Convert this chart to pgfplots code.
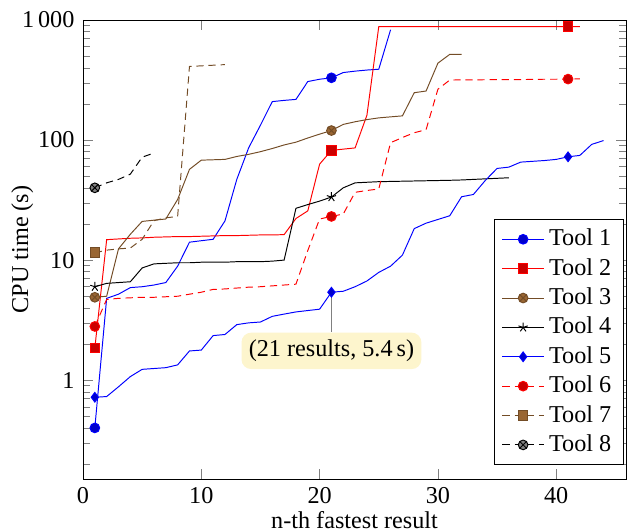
\documentclass[border=0pt]{standalone}
\usepackage{fontspec}
\setmainfont{Liberation Serif}
\usepackage{pgfplots}
\pgfplotsset{compat=1.18}
\definecolor{pinfill}{RGB}{253,245,205}
\begin{document}
\begin{tikzpicture}
\begin{axis}[
  scale only axis,
  width=224.4pt, height=189.7pt,
  ymode=log,
  xmin=0, xmax=45.9,
  ymin=0.15, ymax=1000,
  log ticks with fixed point,
  /pgf/number format/1000 sep={\,},
  /pgf/number format/assume math mode=true,
  xtick={0,10,20,30,40},
  xlabel={n-th fastest result},
  ylabel={CPU time (s)},
  xlabel style={yshift=3.8pt},
  ylabel style={at={(axis description cs:-0.112,0.5)}, anchor=center},
  mark repeat=20,
  legend style={at={(0.996,0.03)}, anchor=south east, row sep=-0.3pt},
  legend cell align=left,
]
\addplot[blue, mark=*, every mark/.append style={fill=blue!80!black}] coordinates {
(1,0.4)(2,4.8)(3,5.2)(4,5.9)(5,6.0)(6,6.2)(7,6.5)(8,8.9)(9,14.1)(10,14.5)
(11,14.9)(12,21.2)(13,47)(14,86)(15,133)(16,209)(17,214)(18,218)(19,307)(20,321)
(21,330)(22,365)(23,375)(24,383)(25,389)(26,830)};
\addlegendentry{Tool 1}
\addplot[red, mark=square*, every mark/.append style={fill=red!80!black}] coordinates {
(1,1.85)(2,14.8)(3,15)(4,15.2)(5,15.3)(6,15.5)(7,15.6)(8,15.7)(9,15.7)(10,15.8)
(11,15.9)(12,16)(13,16)(14,16.1)(15,16.2)(16,16.2)(17,16.3)(18,22.2)(19,25.7)(20,63)
(21,82)(22,84)(23,86)(24,161)(25,880)(26,880)(27,880)(28,880)(29,880)(30,880)
(31,880)(32,880)(33,880)(34,880)(35,880)(36,880)(37,880)(38,880)(39,880)(40,880)
(41,880)(42,880)};
\addlegendentry{Tool 2}
\addplot[brown!60!black, mark=otimes*, every mark/.append style={fill=brown!80!black}] coordinates {
(1,4.9)(2,5.0)(3,12.4)(4,16.4)(5,21)(6,21.5)(7,22)(8,32)(9,57)(10,68)
(11,68.5)(12,69)(13,73)(14,76)(15,80)(16,85)(17,91)(18,96)(19,104)(20,112)
(21,120)(22,135)(23,142)(24,148)(25,153)(26,156)(27,159)(28,248)(29,256)(30,437)
(31,517)(32,517)};
\addlegendentry{Tool 3}
\addplot[black, mark=star] coordinates {
(1,6.0)(2,6.4)(3,6.5)(4,6.6)(5,8.6)(6,9.3)(7,9.4)(8,9.5)(9,9.5)(10,9.6)
(11,9.6)(12,9.6)(13,9.7)(14,9.7)(15,9.7)(16,9.8)(17,10.0)(18,27)(19,29)(20,31)
(21,33.5)(22,40)(23,44)(24,44.5)(25,45)(26,45.2)(27,45.4)(28,45.6)(29,45.8)(30,46)
(31,46.2)(32,46.5)(33,47)(34,47.5)(35,48)(36,48.5)};
\addlegendentry{Tool 4}
\addplot[blue, mark=diamond*, every mark/.append style={fill=blue!80!black}] coordinates {
(1,0.72)(2,0.73)(3,0.88)(4,1.07)(5,1.23)(6,1.25)(7,1.27)(8,1.34)(9,1.75)(10,1.78)
(11,2.35)(12,2.4)(13,2.9)(14,3.0)(15,3.05)(16,3.4)(17,3.55)(18,3.7)(19,3.8)(20,3.9)
(21,5.4)(22,5.5)(23,6.0)(24,6.7)(25,7.9)(26,8.9)(27,11)(28,18.3)(29,20.3)(30,21.8)
(31,23.4)(32,33.7)(33,35.2)(34,46)(35,58)(36,59.5)(37,65.5)(38,66.5)(39,67.5)(40,69)
(41,72.5)(42,74.5)(43,92)(44,99)};
\addlegendentry{Tool 5}
\addplot[red, densely dashed, mark=*, every mark/.append style={solid, fill=red!80!black}] coordinates {
(1,2.8)(2,4.7)(3,4.8)(4,4.85)(5,4.9)(6,4.9)(7,4.95)(8,5.0)(9,5.2)(10,5.4)
(11,5.7)(12,5.75)(13,5.85)(14,5.95)(15,6.0)(16,6.1)(17,6.2)(18,6.3)(19,12)(20,22)
(21,23.1)(22,24.2)(23,36.7)(24,38)(25,39.1)(26,95)(27,105)(28,115)(29,122)(30,265)
(31,316)(32,317)(33,317)(34,318)(35,318)(36,319)(37,319)(38,320)(39,321)(40,321)
(41,322)(42,323)};
\addlegendentry{Tool 6}
\addplot[brown!60!black, densely dashed, mark=square*, every mark/.append style={solid, fill=brown!80!black}] coordinates {
(1,11.5)(2,12.1)(3,12.4)(4,12.6)(5,14.9)(6,21.3)(7,22.5)(8,23.1)(9,410)(10,415)
(11,420)(12,425)};
\addlegendentry{Tool 7}
\addplot[black, densely dashed, mark=otimes*, every mark/.append style={solid, fill=gray}] coordinates {
(1,40)(2,44)(3,47)(4,52)(5,72)(6,78)};
\addlegendentry{Tool 8}
\node[coordinate, pin={[pin edge={gray, thin}, pin distance=16.5pt, fill=pinfill, rounded corners=4pt, inner sep=3pt]below:{(21 results, 5.4\,s)}}] at (axis cs:21,5.4) {};
\end{axis}
\pgfresetboundingbox
\path ([shift={(-34.3pt,-20.25pt)}]current axis.south west) rectangle ([shift={(0.41pt,8.26pt)}]current axis.north east);
\end{tikzpicture}
\end{document}
